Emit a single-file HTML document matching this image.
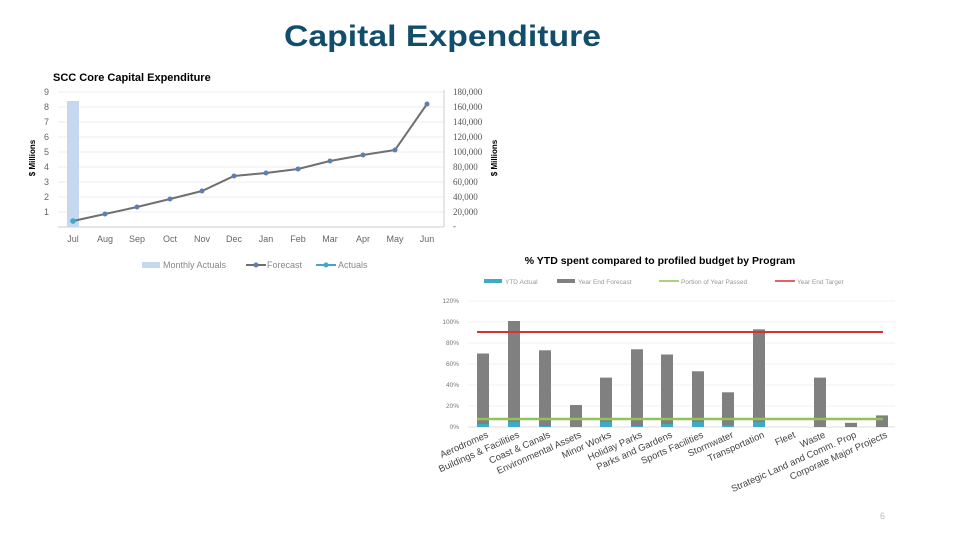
<!DOCTYPE html>
<html><head><meta charset="utf-8"><style>
html,body{margin:0;padding:0;background:#fff;}
svg{display:block;font-family:"Liberation Sans",sans-serif;}
</style></head><body>
<svg width="957" height="539" viewBox="0 0 957 539" xmlns="http://www.w3.org/2000/svg">
<rect width="957" height="539" fill="#fff"/>
<text x="284" y="46" font-size="30" font-weight="bold" fill="#124d6b" textLength="317" lengthAdjust="spacingAndGlyphs">Capital Expenditure</text>

<!-- Chart 1 -->
<text x="53" y="81" font-size="11" font-weight="bold" fill="#000">SCC Core Capital Expenditure</text>
<g stroke="#eee" stroke-width="1">
<line x1="58" y1="92" x2="444" y2="92"/><line x1="58" y1="107" x2="444" y2="107"/>
<line x1="58" y1="122" x2="444" y2="122"/><line x1="58" y1="137" x2="444" y2="137"/>
<line x1="58" y1="152" x2="444" y2="152"/><line x1="58" y1="167" x2="444" y2="167"/>
<line x1="58" y1="182" x2="444" y2="182"/><line x1="58" y1="197" x2="444" y2="197"/>
<line x1="58" y1="212" x2="444" y2="212"/>
</g>
<line x1="58" y1="227" x2="444" y2="227" stroke="#ccc"/>
<line x1="444" y1="90" x2="444" y2="227" stroke="#ccc"/>
<g font-size="9" fill="#666" text-anchor="end">
<text x="49" y="95">9</text><text x="49" y="110">8</text><text x="49" y="125">7</text>
<text x="49" y="140">6</text><text x="49" y="155">5</text><text x="49" y="170">4</text>
<text x="49" y="185">3</text><text x="49" y="200">2</text><text x="49" y="215">1</text>
</g>
<g font-size="9" fill="#555" font-family="Liberation Serif,serif">
<text x="453" y="95">180,000</text><text x="453" y="110">160,000</text><text x="453" y="125">140,000</text>
<text x="453" y="140">120,000</text><text x="453" y="155">100,000</text><text x="453" y="170">80,000</text>
<text x="453" y="185">60,000</text><text x="453" y="200">40,000</text><text x="453" y="215">20,000</text>
<text x="453" y="229">-</text>
</g>
<text transform="translate(35,158) rotate(-90)" font-size="8" font-weight="bold" text-anchor="middle">$ Millions</text>
<text transform="translate(497,158) rotate(-90)" font-size="8" font-weight="bold" text-anchor="middle">$ Millions</text>
<rect x="67" y="101" width="12" height="126" fill="#c5d8f0"/>
<polyline fill="none" stroke="#6f6f6f" stroke-width="2" points="73,221 105,214 137,207 170,199 202,191 234,176 266,173 298,169 330,161 363,155 395,150 427,104"/>
<g fill="#5b7fb0">
<circle cx="105" cy="214" r="2.5"/><circle cx="137" cy="207" r="2.5"/><circle cx="170" cy="199" r="2.5"/>
<circle cx="202" cy="191" r="2.5"/><circle cx="234" cy="176" r="2.5"/><circle cx="266" cy="173" r="2.5"/>
<circle cx="298" cy="169" r="2.5"/><circle cx="330" cy="161" r="2.5"/><circle cx="363" cy="155" r="2.5"/>
<circle cx="395" cy="150" r="2.5"/><circle cx="427" cy="104" r="2.5"/>
</g>
<circle cx="73" cy="221" r="2.8" fill="#3fa9c9"/>
<g font-size="9" fill="#666" text-anchor="middle">
<text x="73" y="242">Jul</text><text x="105" y="242">Aug</text><text x="137" y="242">Sep</text>
<text x="170" y="242">Oct</text><text x="202" y="242">Nov</text><text x="234" y="242">Dec</text>
<text x="266" y="242">Jan</text><text x="298" y="242">Feb</text><text x="330" y="242">Mar</text>
<text x="363" y="242">Apr</text><text x="395" y="242">May</text><text x="427" y="242">Jun</text>
</g>
<rect x="142" y="262" width="18" height="6" fill="#c5d8f0"/>
<text x="163" y="268" font-size="9" fill="#888">Monthly Actuals</text>
<line x1="246" y1="265" x2="266" y2="265" stroke="#6f6f6f" stroke-width="2"/><circle cx="256" cy="265" r="2.5" fill="#5b7fb0"/>
<text x="267" y="268" font-size="9" fill="#888">Forecast</text>
<line x1="316" y1="265" x2="336" y2="265" stroke="#3fa9c9" stroke-width="2"/><circle cx="326" cy="265" r="2.5" fill="#3fa9c9"/>
<text x="338" y="268" font-size="9" fill="#888">Actuals</text>

<!-- Chart 2 -->
<text x="660" y="264" font-size="10.5" font-weight="bold" text-anchor="middle">% YTD spent compared to profiled budget by Program</text>
<rect x="484" y="279" width="18" height="4" fill="#3fa9c9"/>
<text x="505" y="284" font-size="6.5" fill="#999">YTD Actual</text>
<rect x="557" y="279" width="18" height="4" fill="#808080"/>
<text x="578" y="284" font-size="6.5" fill="#999">Year End Forecast</text>
<line x1="659" y1="281" x2="679" y2="281" stroke="#92c353" stroke-width="1.5"/>
<text x="681" y="284" font-size="6.5" fill="#999">Portion of Year Passed</text>
<line x1="775" y1="281" x2="795" y2="281" stroke="#d9322e" stroke-width="1.5"/>
<text x="797" y="284" font-size="6.5" fill="#999">Year End Target</text>
<g stroke="#f0f0f0">
<line x1="468" y1="301" x2="895" y2="301"/><line x1="468" y1="322" x2="895" y2="322"/>
<line x1="468" y1="343" x2="895" y2="343"/><line x1="468" y1="364" x2="895" y2="364"/>
<line x1="468" y1="385" x2="895" y2="385"/><line x1="468" y1="406" x2="895" y2="406"/>
</g>
<line x1="468" y1="427" x2="895" y2="427" stroke="#ddd"/>
<g font-size="6.5" fill="#777" text-anchor="end">
<text x="459" y="303">120%</text><text x="459" y="324">100%</text><text x="459" y="345">80%</text>
<text x="459" y="366">60%</text><text x="459" y="387">40%</text><text x="459" y="408">20%</text><text x="459" y="429">0%</text>
</g>
<g fill="#808080">
<rect x="477" y="353.5" width="12" height="73.5"/>
<rect x="508" y="321" width="12" height="106"/>
<rect x="539" y="350.3" width="12" height="76.7"/>
<rect x="570" y="405" width="12" height="22"/>
<rect x="600" y="377.6" width="12" height="49.4"/>
<rect x="631" y="349.3" width="12" height="77.7"/>
<rect x="661" y="354.5" width="12" height="72.5"/>
<rect x="692" y="371.3" width="12" height="55.7"/>
<rect x="722" y="392.3" width="12" height="34.7"/>
<rect x="753" y="329.3" width="12" height="97.7"/>
<rect x="814" y="377.6" width="12" height="49.4"/>
<rect x="845" y="422.8" width="12" height="4.2"/>
<rect x="876" y="415.4" width="12" height="11.6"/>
</g>
<g fill="#3fa9c9">
<rect x="477" y="424" width="12" height="3"/>
<rect x="508" y="422" width="12" height="5"/>
<rect x="539" y="426" width="12" height="1"/>
<rect x="600" y="422" width="12" height="5"/>
<rect x="631" y="426" width="12" height="1"/>
<rect x="661" y="424" width="12" height="3"/>
<rect x="692" y="422" width="12" height="5"/>
<rect x="722" y="425" width="12" height="2"/>
<rect x="753" y="422" width="12" height="5"/>
</g>
<line x1="477" y1="332" x2="883" y2="332" stroke="#d9322e" stroke-width="2"/>
<line x1="477" y1="419" x2="883" y2="419" stroke="#92c353" stroke-width="2.5"/>
<g font-size="9.5" fill="#444" text-anchor="end">
<text transform="translate(489,437) rotate(-24)">Aerodromes</text>
<text transform="translate(520,437) rotate(-24)">Buildings &amp; Facilities</text>
<text transform="translate(551,437) rotate(-24)">Coast &amp; Canals</text>
<text transform="translate(582,437) rotate(-24)">Environmental Assets</text>
<text transform="translate(612,437) rotate(-24)">Minor Works</text>
<text transform="translate(643,437) rotate(-24)">Holiday Parks</text>
<text transform="translate(673,437) rotate(-24)">Parks and Gardens</text>
<text transform="translate(704,437) rotate(-24)">Sports Facilities</text>
<text transform="translate(734,437) rotate(-24)">Stormwater</text>
<text transform="translate(765,437) rotate(-24)">Transportation</text>
<text transform="translate(796,437) rotate(-24)">Fleet</text>
<text transform="translate(826,437) rotate(-24)">Waste</text>
<text transform="translate(857,437) rotate(-24)">Strategic Land and Comm. Prop</text>
<text transform="translate(888,437) rotate(-24)">Corporate Major Projects</text>
</g>
<text x="880" y="519" font-size="9" fill="#bbb">6</text>
</svg>
</body></html>
